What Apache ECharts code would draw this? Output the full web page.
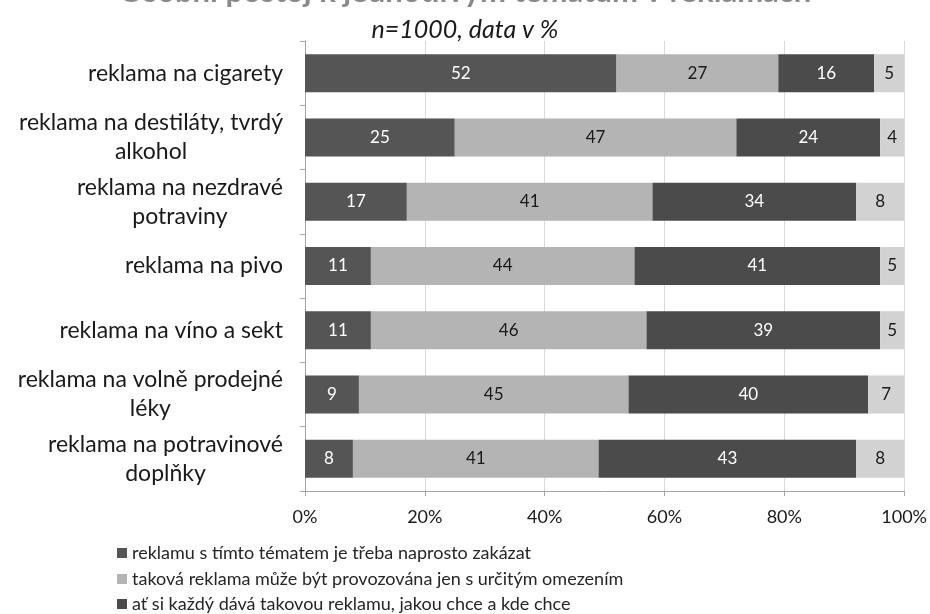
<!DOCTYPE html>
<html>
<head>
<meta charset="utf-8">
<script src="https://cdn.jsdelivr.net/npm/echarts@6/dist/echarts.min.js"></script>
<style>
  html, body { margin: 0; padding: 0; background: #fff; }
  #chart { width: 930px; height: 614px; }
</style>
</head>
<body>
<div id="chart"></div>
<script>
// Témata reklamy (řádky grafu, odshora)
var categories = [
  'reklama na cigarety',
  'reklama na destiláty, tvrdý\nalkohol',
  'reklama na nezdravé\npotraviny',
  'reklama na pivo',
  'reklama na víno a sekt',
  'reklama na volně prodejné\nléky',
  'reklama na potravinové\ndoplňky'
];

// Názvy odpovědí
var seriesNames = [
  'reklamu s tímto tématem je třeba naprosto zakázat',
  'taková reklama může být provozována jen s určitým omezením',
  'ať si každý dává takovou reklamu, jakou chce a kde chce',
  'nevím'
];

// Podíly odpovědí v %
var zakazat   = [52, 25, 17, 11, 11, 9, 8];
var omezit    = [27, 47, 41, 44, 46, 45, 41];
var volne     = [16, 24, 34, 41, 39, 40, 43];
var nevim     = [5, 4, 8, 5, 5, 7, 8];

// Popisky osy x
var xTicks = [0, 20, 40, 60, 80, 100];

var FONT = 'Lato';
var colors = ['#555555', '#b4b4b4', '#4b4b4b', '#d2d2d2'];
var labelColors = ['#ffffff', '#1a1a1a', '#ffffff', '#1a1a1a'];
var values = [zakazat, omezit, volne, nevim];

var series = values.map(function (vals, i) {
  return {
    name: seriesNames[i],
    type: 'bar',
    stack: 'total',
    barWidth: 38,
    data: vals,
    itemStyle: { color: colors[i] },
    label: {
      show: true,
      position: 'inside',
      color: labelColors[i],
      fontFamily: FONT,
      fontSize: 17,
      formatter: '{c}'
    },
    emphasis: { disabled: true }
  };
});

// Legenda: jedna položka na řádek, bez čtvrté odpovědi
var legendTops = [539, 565, 590];
var legends = legendTops.map(function (t, i) {
  return {
    data: [seriesNames[i]],
    left: 112,
    top: t,
    itemWidth: 10,
    itemHeight: 10,
    itemGap: 0,
    icon: 'rect',
    textStyle: { fontFamily: FONT, fontSize: 18, color: '#262626' },
    selectedMode: false
  };
});

var chart = echarts.init(document.getElementById('chart'), null, { renderer: 'canvas' });
chart.setOption({
  animation: false,
  backgroundColor: '#ffffff',
  title: [
    {
      text: 'Osobní postoj k jednotlivým tématům v reklamách',
      left: 'center',
      top: -29,
      textStyle: { fontFamily: FONT, fontSize: 31, fontWeight: 'bold', color: '#8a8a8a' }
    },
    {
      text: 'n=1000, data v %',
      left: 'center',
      top: 12,
      textStyle: { fontFamily: FONT, fontSize: 25, fontStyle: 'italic', fontWeight: 'normal', color: '#1a1a1a' }
    }
  ],
  legend: legends,
  grid: { left: 305, right: 25, top: 41, bottom: 123, containLabel: false },
  xAxis: {
    type: 'value',
    min: 0,
    max: 100,
    interval: 20,
    axisLine: { show: true, lineStyle: { color: '#a6a6a6' } },
    axisTick: { show: true, length: 5, lineStyle: { color: '#a6a6a6' } },
    splitLine: { show: true, lineStyle: { color: '#d9d9d9' } },
    axisLabel: {
      fontFamily: FONT,
      fontSize: 18,
      color: '#1a1a1a',
      margin: 17,
      formatter: function (v) { return xTicks.indexOf(v) >= 0 ? v + '%' : ''; }
    }
  },
  yAxis: {
    type: 'category',
    inverse: true,
    data: categories,
    axisLine: { show: true, lineStyle: { color: '#a6a6a6' } },
    axisTick: { show: true, length: 5, lineStyle: { color: '#a6a6a6' } },
    axisLabel: {
      margin: 22,
      align: 'right',
      formatter: function (v) {
        return v.split('\n').map(function (s) { return '{c|' + s + '}'; }).join('\n');
      },
      rich: {
        c: { fontFamily: FONT, fontSize: 23, color: '#1a1a1a', align: 'center', lineHeight: 29 }
      }
    }
  },
  series: series
});
</script>
</body>
</html>
